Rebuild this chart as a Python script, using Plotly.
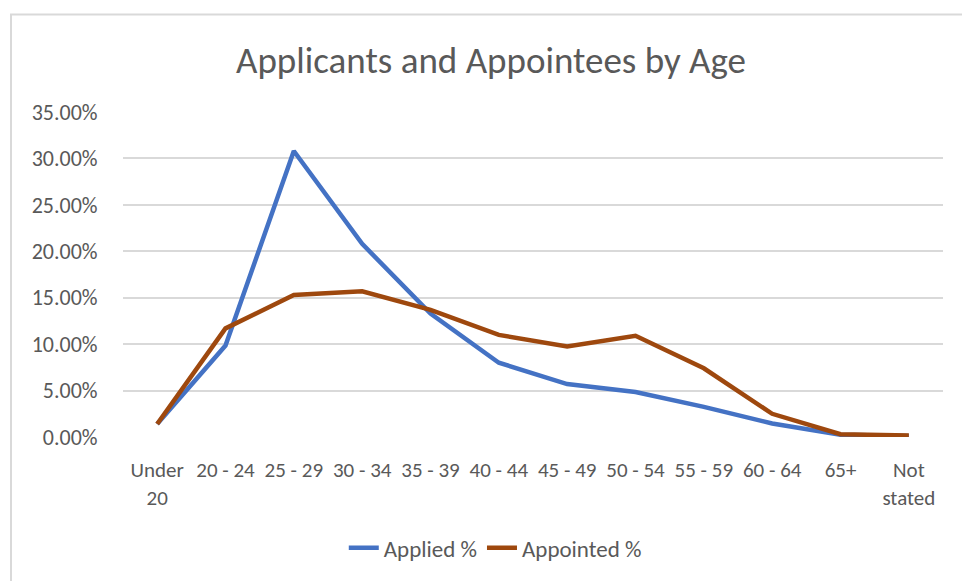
import plotly.graph_objects as go

categories = ["Under 20", "20 - 24", "25 - 29", "30 - 34", "35 - 39", "40 - 44",
              "45 - 49", "50 - 54", "55 - 59", "60 - 64", "65+", "Not stated"]
tick_labels = ["Under<br>20", "20 - 24", "25 - 29", "30 - 34", "35 - 39", "40 - 44",
               "45 - 49", "50 - 54", "55 - 59", "60 - 64", "65+", "Not<br>stated"]
applied_pct = [0.014, 0.0985, 0.308, 0.208, 0.133, 0.080, 0.057, 0.0485, 0.0325, 0.0145, 0.0025, 0.001]
appointed_pct = [0.014, 0.117, 0.153, 0.157, 0.137, 0.110, 0.0975, 0.109, 0.074, 0.025, 0.003, 0.0015]

FONT = "Carlito, Calibri, Lato, sans-serif"
GREY = "#595959"

fig = go.Figure()
fig.add_trace(go.Scatter(x=categories, y=applied_pct, mode="lines", name="Applied %",
                         line=dict(color="#4472C4", width=4.5)))
fig.add_trace(go.Scatter(x=categories, y=appointed_pct, mode="lines", name="Appointed %",
                         line=dict(color="#9E480E", width=4.5)))

fig.update_layout(
    width=962, height=581,
    margin=dict(l=123, r=19, t=112, b=142),
    paper_bgcolor="white", plot_bgcolor="white",
    font=dict(family=FONT, color=GREY, size=21),
    title=dict(text="Applicants and Appointees by Age", x=491 / 962, xanchor="center",
               y=1 - 60 / 581, yanchor="middle", font=dict(size=37, color=GREY, family=FONT)),
    legend=dict(orientation="h", x=0.454, xanchor="center", y=(438.7 - 550) / 326.7, yanchor="middle",
                font=dict(size=23, color=GREY), tracegroupgap=0),
    showlegend=True,
)
fig.update_xaxes(type="category", tickmode="array", tickvals=categories, ticktext=tick_labels,
                 range=[-0.5, 11.5], showgrid=False, zeroline=False, showline=False,
                 ticks="outside", ticklen=14, tickcolor="rgba(0,0,0,0)",
                 tickfont=dict(size=21, color=GREY))
fig.update_yaxes(range=[0, 0.35], dtick=0.05, tickformat=".2%", showgrid=True,
                 gridcolor="#D9D9D9", gridwidth=1.5, zeroline=False, showline=False,
                 ticks="outside", ticklen=20, tickcolor="rgba(0,0,0,0)",
                 tickfont=dict(size=22, color=GREY))

fig.add_shape(type="rect", xref="paper", yref="paper",
              x0=(11 - 123) / 820, x1=(975 - 123) / 820,
              y0=(438.7 - 600) / 326.7, y1=(438.7 - 14) / 326.7,
              line=dict(color="#D9D9D9", width=2), fillcolor="rgba(0,0,0,0)", layer="below")

fig.write_html("out.html", config={"displayModeBar": False},
               post_script="document.body.style.margin='0px';")
